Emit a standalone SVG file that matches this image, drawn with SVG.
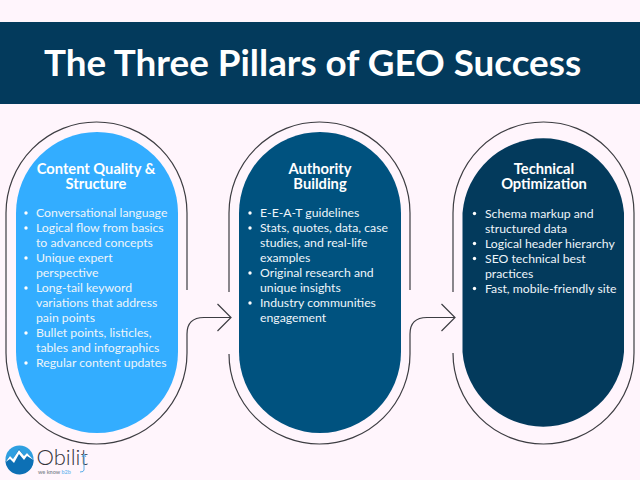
<svg xmlns="http://www.w3.org/2000/svg" width="640" height="480" viewBox="0 0 640 480">
<style>
text{font-family:Lato,"Liberation Sans",sans-serif;fill:#fff}
.h{font-size:14.7px;font-weight:700;text-anchor:middle}
.b{font-size:12.25px;fill:#eef5fa}
.o{fill:none;stroke:#3d3d42;stroke-width:1.2}
.d{fill:#fff}
</style>
<rect width="640" height="480" fill="#fff5fc"/>
<g id="banner">
<rect x="0" y="22" width="640" height="82" fill="#033a5c"/>
<text x="312.500" y="76" font-size="36.800" font-weight="700" text-anchor="middle">The Three Pillars of GEO Success</text>
</g>
<g id="connectors">
<path class="o" d="M187 290V213A90.500 91 0 0 0 6 213V353A90.500 91 0 0 0 187 353V334Q187 317.500 204 317.500H231M217.500 304L231 317.500L217.500 331"/>
<path class="o" d="M410 290V213A90.500 91 0 0 0 229 213V292M229 354A90.500 90 0 0 0 410 354V334Q410 317.500 427 317.500H455M441.500 304L455 317.500L441.500 331"/>
<path class="o" d="M453 292V213A90.500 91 0 0 1 634 213V353A90.500 91 0 0 1 453 353"/>
</g>
<g id="pillar1">
<path d="M16 213A81 81 0 0 1 178 213V352A81 81 0 0 1 16 352Z" fill="#33adff"/>
<text class="h" x="96" y="174">Content Quality &amp;</text>
<text class="h" x="96" y="189">Structure</text>
<circle class="d" cx="26" cy="213" r="1.700"/><text class="b" x="36" y="217">Conversational language</text>
<circle class="d" cx="26" cy="228" r="1.700"/><text class="b" x="36" y="232">Logical flow from basics</text>
<text class="b" x="36" y="247">to advanced concepts</text>
<circle class="d" cx="26" cy="258" r="1.700"/><text class="b" x="36" y="262">Unique expert</text>
<text class="b" x="36" y="277">perspective</text>
<circle class="d" cx="26" cy="288" r="1.700"/><text class="b" x="36" y="292">Long-tail keyword</text>
<text class="b" x="36" y="307">variations that address</text>
<text class="b" x="36" y="322">pain points</text>
<circle class="d" cx="26" cy="333" r="1.700"/><text class="b" x="36" y="337">Bullet points, listicles,</text>
<text class="b" x="36" y="352">tables and infographics</text>
<circle class="d" cx="26" cy="363" r="1.700"/><text class="b" x="36" y="367">Regular content updates</text>
</g>
<g id="pillar2">
<path d="M239 213A81 81 0 0 1 401 213V352A81 81 0 0 1 239 352Z" fill="#00527f"/>
<text class="h" x="320" y="174">Authority</text>
<text class="h" x="320" y="189">Building</text>
<circle class="d" cx="250" cy="213" r="1.700"/><text class="b" x="260" y="217">E-E-A-T guidelines</text>
<circle class="d" cx="250" cy="228" r="1.700"/><text class="b" x="260" y="232">Stats, quotes, data, case</text>
<text class="b" x="260" y="247">studies, and real-life</text>
<text class="b" x="260" y="262">examples</text>
<circle class="d" cx="250" cy="273" r="1.700"/><text class="b" x="260" y="277">Original research and</text>
<text class="b" x="260" y="292">unique insights</text>
<circle class="d" cx="250" cy="303" r="1.700"/><text class="b" x="260" y="307">Industry communities</text>
<text class="b" x="260" y="322">engagement</text>
</g>
<g id="pillar3">
<path d="M462.500 213A81 81 0 0 1 624 213V352A81 81 0 0 1 462.500 352Z" fill="#033a5c"/>
<text class="h" x="544" y="174">Technical</text>
<text class="h" x="544" y="189">Optimization</text>
<circle class="d" cx="474.500" cy="213.500" r="1.700"/><text class="b" x="485" y="218">Schema markup and</text>
<text class="b" x="485" y="233">structured data</text>
<circle class="d" cx="474.500" cy="243.500" r="1.700"/><text class="b" x="485" y="248">Logical header hierarchy</text>
<circle class="d" cx="474.500" cy="258.500" r="1.700"/><text class="b" x="485" y="263">SEO technical best</text>
<text class="b" x="485" y="278">practices</text>
<circle class="d" cx="474.500" cy="288.500" r="1.700"/><text class="b" x="485" y="293">Fast, mobile-friendly site</text>
</g>
<g id="logo">
<circle cx="19.500" cy="459.500" r="14" fill="#2f9fe0"/>
<path d="M5.500 461L10 456L13 459L19 449L24 456L27 453L33.500 460A14 14 0 0 1 5.500 461Z" fill="#0d70b5"/>
<path d="M5.500 462L10 456L13 459L19 450L24 456L27 453L33.500 460L27 456L24 460L19 454L14 463L10 459Z" fill="#fff"/>
<text x="36.500" y="465" font-size="22" font-weight="300" style="fill:#33333a">Obilit</text>
<path d="M84 454V470Q84 472 80 472M84 454L82 457M84 454L86 457" fill="none" stroke="#5aaee8" stroke-width="1"/>
<text x="38" y="473.500" font-size="5.500" font-weight="700" style="fill:#8a8f96">we know <tspan style="fill:#7fc0f0">b2b</tspan></text>
</g>
</svg>
